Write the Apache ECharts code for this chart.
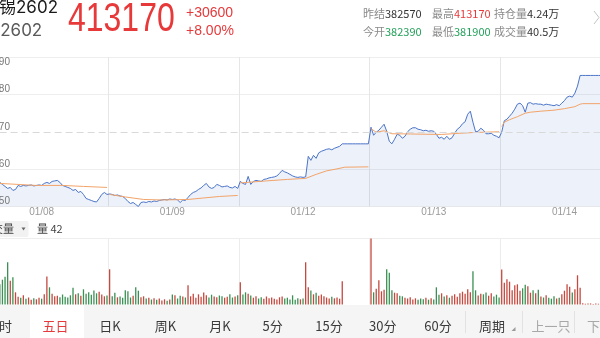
<!DOCTYPE html>
<html>
<head>
<meta charset="utf-8">
<script src="https://cdn.jsdelivr.net/npm/echarts@6/dist/echarts.min.js"></script>
<style>
  html, body { margin: 0; padding: 0; background: #fff; }
  #c { width: 600px; height: 338px; }
</style>
</head>
<body>
<div id="c"></div>
<script>
// ---- five-day intraday data, SHFE tin 2602 ----
const days = ['01/08', '01/09', '01/12', '01/13', '01/14'];
const slotsPerDay = 50;

// last price per time slot, one array per trading day
const p0108 = [357220, 356670, 357760, 356130, 355580, 356670, 356130, 355580, 355040, 353950,
  352860, 351770, 352310, 350680, 351220, 353400, 352860, 353400, 353130, 353400,
  353670, 353130, 353400, 353670, 353400, 354490, 355040, 354490, 355580, 355860,
  356130, 355040, 353400, 352860, 352310, 351770, 350680, 351220, 349590, 350130,
  348500, 346310, 345770, 345220, 344680, 344410, 346310, 348500, 349590, 348500];
const p0109 = [348770, 348500, 347950, 348220, 347680, 347400, 346310, 344680, 343590, 344130,
  343040, 341950, 344130, 344410, 344130, 344680, 344410, 344950, 344680, 345220,
  345500, 345770, 345500, 346040, 345770, 346040, 345500, 344130, 345500, 345220,
  346860, 348500, 349590, 350130, 351220, 352040, 353400, 354490, 352580, 351770,
  352310, 353950, 353400, 352580, 352860, 353130, 352310, 352040, 352860, 351770];
const p0112 = [355580, 354490, 353950, 358310, 353950, 355580, 356130, 355860, 355580, 356670,
  356950, 357490, 357760, 358040, 358580, 359940, 361580, 360760, 360220, 359400,
  358580, 358040, 357760, 358040, 357760, 358040, 369210, 367030, 369760, 368120,
  371120, 371940, 372480, 373030, 373300, 372760, 373570, 374120, 374670, 376000,
  376000, 376000, 376000, 376000, 376000, 376000, 376000, 376000, 376000, 376000];
const p0113 = [385020, 380660, 382300, 383390, 385020, 386660, 382840, 377390, 376030, 378480,
  381210, 380660, 379030, 380120, 382570, 383930, 384750, 384750, 383930, 383660,
  383110, 383390, 382840, 383110, 382840, 381210, 379030, 379570, 378480, 380120,
  378480, 379300, 381750, 383930, 385020, 386930, 388020, 392110, 393750, 387750,
  382570, 382840, 384480, 383390, 381480, 381480, 381750, 380660, 380120, 379300];
const p0114 = [382390, 388570, 389380, 391020, 392660, 394840, 397560, 398110, 396740, 393200,
  398110, 398380, 397560, 397840, 397560, 397560, 397020, 397560, 397290, 397020,
  396740, 397290, 396740, 398110, 399470, 401380, 401920, 401380, 403560, 407380,
  413170, 413170, 413170, 413170, 413170, 413170, 413170, 413170, 413170, 413170,
  413170, 413170, 413170, 413170, 413170, 413170, 413170, 413170, 413170, 413170];

// running average price, [slot, value] pairs per day
const a0108 = [[0, 357220], [4, 355900], [8, 354490], [15, 353950], [22, 353400], [32, 353400], [40, 352860], [49, 352310]];
const a0109 = [[0, 348500], [6, 347130], [13, 345770], [20, 345500], [30, 345770], [36, 346590], [42, 347400], [49, 347950]];
const a0112 = [[0, 354770], [10, 355860], [18, 356670], [25, 357220], [29, 359400], [33, 361310], [37, 362400], [40, 363320], [49, 363490]];
const a0113 = [[0, 384210], [2, 382300], [5, 383110], [8, 381480], [15, 381370], [21, 381210], [27, 381100], [34, 381750], [39, 382130], [49, 382570]];
const a0114 = [[0, 385400], [1, 387750], [3, 389110], [6, 390750], [9, 392660], [11, 393200], [15, 393750], [20, 394290], [24, 395110], [28, 396200], [30, 397560], [31, 397840], [49, 397840]];

// traded lots per slot
const v0108 = [1620, 1310, 1850, 1480, 1090, 1410, 1180, 1560, 1010, 1240,
  1390, 2110, 1190, 1360, 610, 390, 340, 460, 290, 350,
  240, 310, 260, 340, 290, 510, 1400, 860, 540, 410,
  440, 360, 500, 390, 350, 460, 840, 510, 560, 440,
  760, 540, 610, 490, 700, 560, 640, 500, 410, 450];
const v0109 = [1760, 410, 590, 360, 400, 340, 710, 660, 350, 440,
  860, 690, 360, 410, 300, 340, 250, 310, 240, 300,
  200, 260, 190, 250, 500, 460, 300, 440, 400, 350,
  960, 410, 540, 340, 510, 390, 600, 460, 350, 490,
  400, 360, 450, 410, 340, 390, 510, 350, 400, 460];
const v0112 = [1110, 500, 610, 540, 450, 340, 410, 300, 360, 290,
  400, 310, 350, 290, 250, 360, 400, 300, 340, 250,
  460, 240, 310, 260, 300, 2110, 860, 700, 510, 590,
  440, 500, 410, 350, 300, 390, 310, 350, 290, 1160,
  0, 0, 0, 0, 0, 0, 0, 0, 0, 0];
const v0113 = [3300, 610, 790, 1210, 660, 740, 1760, 1590, 710, 590,
  560, 440, 410, 340, 300, 360, 250, 310, 240, 300,
  260, 340, 240, 310, 250, 860, 490, 560, 400, 460,
  340, 440, 510, 390, 560, 640, 540, 760, 610, 1660,
  710, 450, 540, 510, 600, 440, 560, 400, 490, 350];
const v0114 = [1750, 1090, 1260, 1140, 710, 960, 1010, 690, 810, 990,
  910, 590, 710, 560, 740, 400, 350, 460, 340, 290,
  410, 300, 340, 510, 690, 1010, 890, 600, 760, 1460,
  840, 60, 35, 48, 52, 30, 44, 38, 56, 40,
  47, 33, 51, 39, 45, 36, 50, 41, 37, 42];

// price axis ticks: symmetric around the previous settlement
const prevSettle = 382570;
const priceStep = 20310;
const priceMin = 341950;
const priceMax = 423190;
const volMax = 3300;

// quote header
const contractName = '沪锡2602';
const contractCode = 'SN2602';
const lastPrice = 413170;
const change = '+30600';
const changePct = '+8.00%';
const openPrice = 382390;
const highPrice = 413170;
const lowPrice = 381900;
const openInterest = '4.24万';
const turnover = '40.5万';
const lastVol = 42;
const tabs = ['分时', '五日', '日K', '周K', '月K', '5分', '15分', '30分', '60分', '周期', '上一只', '下一只'];

// ---- build ----
const BLUE = '#4a74c8', ORANGE = '#f2a46a', FILL = 'rgba(74,116,200,0.1)';
const UP = '#c4493f', DOWN = '#3b9053';
const RED = '#e8393a', GREEN = '#23a05a';
const CJK = "'Noto Sans CJK SC', sans-serif";

const categories = [];
days.forEach(d => { for (let s = 0; s < slotsPerDay; s++) categories.push(d + ' ' + s); });
const price = [].concat(p0108, p0109, p0112, p0113, p0114);
const volume = [].concat(v0108, v0109, v0112, v0113, v0114);
const avgDays = [a0108, a0109, a0112, a0113, a0114];

const daySplit = (i) => i > 0 && i % slotsPerDay === 0;

const avgSeries = avgDays.map((pts, d) => ({
  type: 'line', xAxisIndex: 0, yAxisIndex: 0, symbol: 'none', silent: true, z: 4,
  data: pts.map(([s, v]) => [d * slotsPerDay + s, v]),
  lineStyle: { color: ORANGE, width: 1 }
}));

function txt(text, x, y, opt) {
  return {
    type: 'text', x: x, y: y, silent: true, z: 100,
    scaleX: opt.scaleX || 1,
    style: Object.assign({
      text: text, align: opt.align || 'left', textAlign: opt.align || 'left',
      verticalAlign: 'middle', textVerticalAlign: 'middle',
      fill: opt.fill || '#333', font: opt.font
    }, opt.extra || {})
  };
}
function info(label, value, color, x, y) {
  return txt('{l|' + label + '}{v|' + value + '}', x, y, {
    font: '11px ' + CJK,
    extra: { rich: {
      l: { fill: '#8a8a8a', font: '11px ' + CJK },
      v: { fill: color, font: '11px ' + CJK }
    } }
  });
}

const tabX = [12, 55.5, 110, 165.5, 220, 272.7, 329, 382.7, 438, 492, 551, 587];
const tabEls = tabs.map((t, i) => {
  let align = 'center';
  if (i === 0) align = 'right';
  if (i === tabs.length - 1) align = 'left';
  let fill = '#3a3a3a';
  if (i === 1) fill = RED;
  if (i >= 10) fill = '#a8a8a8';
  return txt(t, tabX[i], 326, { font: '13px ' + CJK, fill: fill, align: align });
});

const graphics = [
  txt(contractName, -18, 8, { font: "17px Inter, 'Noto Sans CJK SC'", fill: '#1a1a1a' }),
  txt(contractCode, -23.5, 30.5, { font: "17px Inter, 'Noto Sans CJK SC'", fill: '#5a5a5a' }),
  txt(String(lastPrice), 68, 19.5, { font: "41px 'Liberation Sans'", fill: RED, scaleX: 0.78 }),
  txt(change, 186, 13.5, { font: "14px 'Liberation Sans'", fill: RED }),
  txt(changePct, 186, 31, { font: "14px 'Liberation Sans'", fill: RED }),
  info('昨结', prevSettle, '#333', 363, 13.5),
  info('最高', highPrice, RED, 432, 13.5),
  info('持仓量', openInterest, '#333', 494, 13.5),
  info('今开', openPrice, GREEN, 363, 31.5),
  info('最低', lowPrice, GREEN, 432, 31.5),
  info('成交量', turnover, '#333', 494, 31.5),
  { type: 'polyline', silent: true, z: 100, shape: { points: [[594, 11], [599, 17.5], [594, 24]] },
    style: { stroke: '#c4c4c4', lineWidth: 1, fill: null } },
  // volume selector
  { type: 'rect', silent: true, z: 90, shape: { x: -6, y: 221, width: 34.5, height: 16, r: 2 }, style: { fill: '#f2f2f2' } },
  txt('成交量', -19, 229, { font: '11px ' + CJK, fill: '#444' }),
  { type: 'polygon', silent: true, z: 100, shape: { points: [[21.5, 227.5], [25.5, 227.5], [23.5, 230.5]] }, style: { fill: '#666' } },
  txt('量 ' + lastVol, 37, 229, { font: '11px ' + CJK, fill: '#444' }),
  // period tab bar
  { type: 'rect', silent: true, z: 90, shape: { x: 0, y: 305, width: 600, height: 33 }, style: { fill: '#f5f5f5' } },
  { type: 'rect', silent: true, z: 91, shape: { x: 30, y: 305, width: 54, height: 33 }, style: { fill: '#ffffff' } },
  { type: 'line', silent: true, z: 92, shape: { x1: 465.5, y1: 311, x2: 465.5, y2: 333 }, style: { stroke: '#e2e2e2', lineWidth: 1 } },
  { type: 'line', silent: true, z: 92, shape: { x1: 522.5, y1: 311, x2: 522.5, y2: 333 }, style: { stroke: '#e2e2e2', lineWidth: 1 } },
  { type: 'line', silent: true, z: 92, shape: { x1: 574.5, y1: 311, x2: 574.5, y2: 333 }, style: { stroke: '#e2e2e2', lineWidth: 1 } },
  { type: 'polygon', silent: true, z: 100, shape: { points: [[511.5, 331], [515.5, 331], [515.5, 327]] }, style: { fill: '#9a9a9a' } }
].concat(tabEls);

// price axis label styles: middle ticks sit above their line, the top one below it
const priceLabel = (valign, pick) => ({
  inside: true, margin: -1, verticalAlign: valign, color: '#777', fontSize: 10, fontFamily: 'Liberation Sans',
  showMinLabel: true, showMaxLabel: true, hideOverlap: false,
  formatter: (v) => (pick(v) ? String(v) : '')
});
const priceAxis = (extra) => Object.assign({
  type: 'value', gridIndex: 0, position: 'left', offset: 0,
  min: priceMin, max: priceMax, interval: priceStep,
  axisLine: { show: false }, axisTick: { show: false }, splitLine: { show: false }
}, extra);

const chart = echarts.init(document.getElementById('c'), null, { renderer: 'canvas', width: 600, height: 338 });
chart.setOption({
  animation: false,
  backgroundColor: '#ffffff',
  grid: [
    { left: -22.4, top: 57, width: 653.5, height: 149.5, containLabel: false, outerBoundsMode: 'none' },
    { left: -22.4, top: 238.5, width: 653.5, height: 66, containLabel: false, outerBoundsMode: 'none' }
  ],
  xAxis: [
    {
      type: 'category', gridIndex: 0, data: categories, boundaryGap: true,
      axisLine: { show: false }, axisTick: { show: false },
      axisLabel: {
        interval: (i) => i % slotsPerDay === 24,
        formatter: (v) => v.split(' ')[0],
        color: '#9a9a9a', fontSize: 10, fontFamily: 'Liberation Sans', margin: 1
      },
      splitLine: { show: true, interval: daySplit, lineStyle: { color: '#e6e6e6', width: 1 } }
    },
    {
      type: 'category', gridIndex: 1, data: categories, boundaryGap: true,
      axisLine: { show: false }, axisTick: { show: false }, axisLabel: { show: false },
      splitLine: { show: true, interval: daySplit, lineStyle: { color: '#ececec', width: 1 } }
    }
  ],
  yAxis: [
    priceAxis({
      axisLabel: priceLabel('bottom', (v) => v !== priceMax && v !== priceMin),
      splitLine: { show: true, lineStyle: { color: ['#eeeeee', '#eeeeee', 'rgba(0,0,0,0)', '#eeeeee', '#eeeeee'], width: 1 } }
    }),
    priceAxis({ axisLabel: priceLabel('top', (v) => v === priceMax) }),
    priceAxis({ z: 10, axisLabel: priceLabel('bottom', (v) => v === priceMin) }),
    {
      type: 'value', gridIndex: 1, min: 0, max: volMax, interval: volMax,
      axisLine: { show: false }, axisTick: { show: false }, axisLabel: { show: false },
      splitLine: { show: true, lineStyle: { color: ['rgba(0,0,0,0)', '#eeeeee'], width: 1 } }
    }
  ],
  series: [
    {
      type: 'line', xAxisIndex: 0, yAxisIndex: 0, data: price, symbol: 'none', silent: true, z: 3,
      lineStyle: { color: BLUE, width: 1 },
      areaStyle: { color: FILL, opacity: 1, origin: 'start' },
      markLine: {
        silent: true, symbol: 'none', label: { show: false }, animation: false,
        lineStyle: { color: '#d9d9d9', type: [7, 4], width: 1 },
        data: [{ yAxis: prevSettle }]
      }
    }
  ].concat(avgSeries, [
    {
      type: 'bar', xAxisIndex: 1, yAxisIndex: 3, data: volume, barWidth: 1.3, silent: true,
      itemStyle: {
        color: (p) => {
          const i = p.dataIndex;
          return (i === 0 || price[i] >= price[i - 1]) ? UP : DOWN;
        }
      }
    }
  ]),
  graphic: { elements: graphics }
});
</script>
</body>
</html>
